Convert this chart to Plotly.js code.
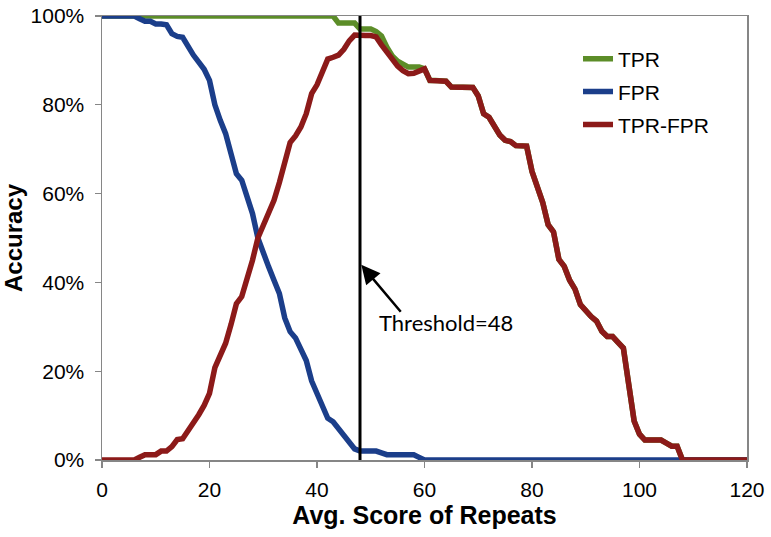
<!DOCTYPE html>
<html>
<head>
<meta charset="utf-8">
<script src="https://cdn.plot.ly/plotly-3.0.1.min.js"></script>
<style>html,body{margin:0;padding:0;background:#fff;}#chart{width:771px;height:537px;}</style>
</head>
<body>
<div id="chart"></div>
<script>
// Average score of repeats (x)
const scores = [];
for (let i = 0; i <= 120; i++) scores.push(i);

// True positive rate (%)
const tpr = [
  100,100,100,100,100,100,100,100,100,100,   // 0-9
  100,100,100,100,100,100,100,100,100,100,   // 10-19
  100,100,100,100,100,100,100,100,100,100,   // 20-29
  100,100,100,100,100,100,100,100,100,100,   // 30-39
  100,100,100,100,98.4,98.4,98.4,98.4,97.1,97.1, // 40-49
  97.1,96.5,95.5,93,91,89.8,89,88.5,88.5,88.5,   // 50-59
  88.1,85.5,85.5,85.5,85.3,84,83.9,83.9,83.9,83.9, // 60-69
  82,78,77.2,75,73.2,72,71.7,70.8,70.7,70.7,     // 70-79
  65,61.7,58,53,51.4,45.2,43.6,40.5,38.5,35,     // 80-89
  33.5,32.3,31.3,29,27.8,27.8,26.5,25.2,17,8.8,  // 90-99
  5.8,4.5,4.5,4.5,4.5,3.8,3.1,3.1,0,0,           // 100-109
  0,0,0,0,0,0,0,0,0,0,0                          // 110-120
];

// False positive rate (%)
const fpr = [
  100,100,100,100,100,100,100,99.4,98.8,98.8,    // 0-9
  98.2,98.2,98,96,95.4,95.2,93,91.2,89.6,88,     // 10-19
  85.5,80,76.5,73.5,69,64.5,63,59,55.5,50,       // 20-29
  46.5,43.5,40.5,37.5,32,28.9,27.5,25,22.4,17.8, // 30-39
  14.8,12,9.4,8.6,7.1,5.5,4,2.5,2,2,             // 40-49
  2,2,1.6,1.2,1.2,1.2,1.2,1.2,1.2,0.6,           // 50-59
  0,0,0,0,0,0,0,0,0,0,
  0,0,0,0,0,0,0,0,0,0,
  0,0,0,0,0,0,0,0,0,0,
  0,0,0,0,0,0,0,0,0,0,
  0,0,0,0,0,0,0,0,0,0,
  0,0,0,0,0,0,0,0,0,0,0
];

// TPR - FPR (%)
const tprMinusFpr = [
  0,0,0,0,0,0,0,0.6,1.2,1.2,                     // 0-9
  1.2,2,2,3,4.6,4.8,6.5,8.5,10.2,12.3,           // 10-19
  15,20.8,23.8,26.3,30.5,35.2,36.8,40.5,45,50,   // 20-29
  53,55.8,58.5,62.5,67.5,71.5,73,75,78,82.5,     // 30-39
  84.5,87.5,90.3,90.7,91.2,92.5,94.4,95.7,95.8,95.6, // 40-49
  95.6,95.3,93.5,91.8,90,88.7,87.7,87,87.1,87.6, // 50-59
  88.1,85.5,85.5,85.5,85.3,84,83.9,83.9,83.9,83.9, // 60-69
  82,78,77.2,75,73.2,72,71.7,70.8,70.7,70.7,     // 70-79
  65,61.7,58,53,51.4,45.2,43.6,40.5,38.5,35,     // 80-89
  33.5,32.3,31.3,29,27.8,27.8,26.5,25.2,17,8.8,  // 90-99
  5.8,4.5,4.5,4.5,4.5,3.8,3.1,3.1,0,0,           // 100-109
  0,0,0,0,0,0,0,0,0,0,0                          // 110-120
];

const seriesNames = ['TPR', 'FPR', 'TPR-FPR'];
const threshold = 48;
const thresholdSpan = [0, 100];
const xTicks = [0, 20, 40, 60, 80, 100, 120];
const yTicks = [0, 20, 40, 60, 80, 100];
const yTickText = yTicks.map(v => v + '%');

const colors = ['#5c8d28', '#1b3e8a', '#8c1a19'];
const axisColor = '#868686';
const lw = 5.5;

const traces = [
  {x: scores, y: tpr, name: seriesNames[0], mode: 'lines', line: {color: colors[0], width: lw}, legendgroup: 'a'},
  {x: scores, y: fpr, name: seriesNames[1], mode: 'lines', line: {color: colors[1], width: lw}, legendgroup: 'b'},
  {x: scores, y: tprMinusFpr, name: seriesNames[2], mode: 'lines', line: {color: colors[2], width: lw}, legendgroup: 'c'},
  {x: [threshold, threshold], y: thresholdSpan, mode: 'lines', line: {color: '#000', width: 3}, showlegend: false, hoverinfo: 'skip'}
];

const layout = {
  width: 771, height: 537,
  margin: {l: 102, r: 24, t: 16, b: 76.5},
  paper_bgcolor: '#fff', plot_bgcolor: '#fff',
  font: {family: 'Liberation Sans, Arial, sans-serif', color: '#000', size: 20},
  showlegend: true,
  legend: {
    x: 0.738, y: 0.949, xanchor: 'left', yanchor: 'top',
    font: {size: 21, color: '#000'},
    traceorder: 'grouped', tracegroupgap: 2.5,
    bgcolor: 'rgba(0,0,0,0)'
  },
  xaxis: {
    range: [0, 120], tickvals: xTicks, ticks: 'outside', ticklen: 6, tickwidth: 1.2,
    tickcolor: axisColor, showline: true, linecolor: axisColor, linewidth: 1.5, mirror: true,
    showgrid: false, zeroline: false, tickfont: {size: 21}, ticklabelstandoff: 4,
    title: {text: '<b>Avg. Score of Repeats</b>', font: {size: 25}, standoff: 6}
  },
  yaxis: {
    range: [0, 100], tickvals: yTicks, ticktext: yTickText, ticks: 'outside', ticklen: 6, tickwidth: 1.2,
    tickcolor: axisColor, showline: true, linecolor: axisColor, linewidth: 1.5, mirror: true,
    showgrid: false, zeroline: false, tickfont: {size: 21}, ticklabelstandoff: 6,
    title: {text: '<b>Accuracy</b>', font: {size: 24}, standoff: 9}
  },
  annotations: [
    {x: threshold, y: 44.3, xref: 'x', yref: 'y', text: '', showarrow: true,
     ax: 42, ay: 50, arrowhead: 2, arrowsize: 1.5, arrowwidth: 2.5, arrowcolor: '#000', standoff: 2},
    {x: 51.2, y: 30.9, xref: 'x', yref: 'y', text: 'Threshold=' + threshold, showarrow: false,
     xanchor: 'left', yanchor: 'middle', font: {family: 'Lato, Open Sans, sans-serif', size: 22, color: '#000'}}
  ]
};

Plotly.newPlot('chart', traces, layout, {displayModeBar: false, staticPlot: true});
</script>
</body>
</html>
